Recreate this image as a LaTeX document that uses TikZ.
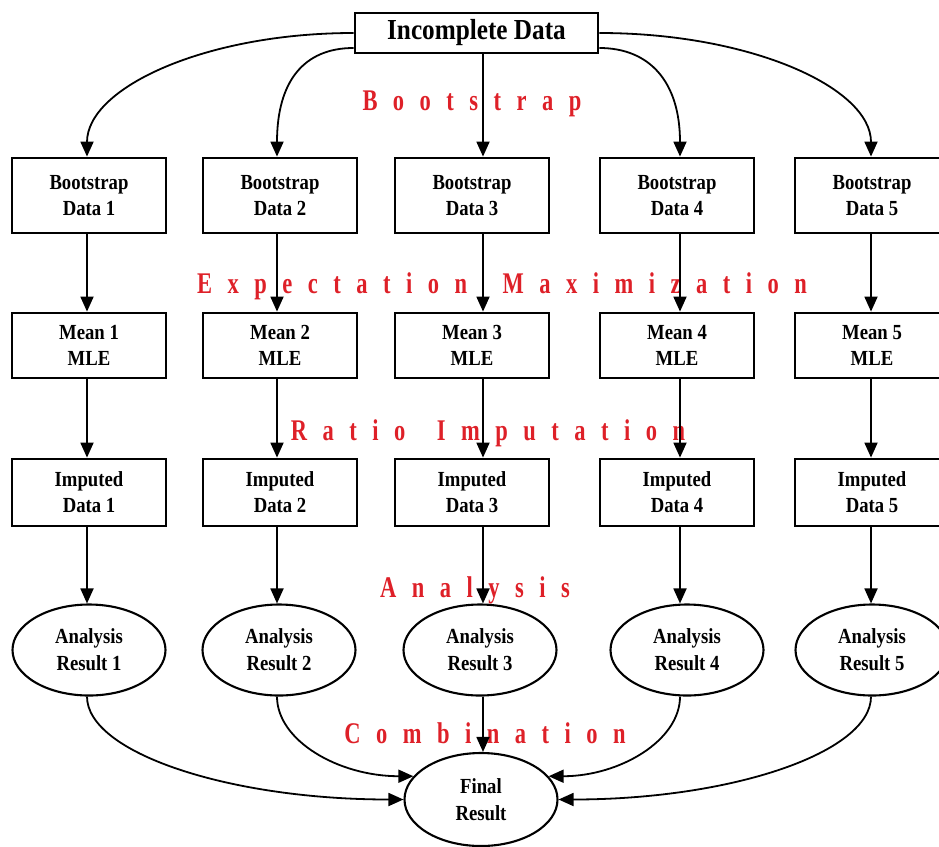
\documentclass[tikz,border=0pt]{standalone}
\usepackage{fontspec}
\setmainfont{Liberation Serif}[FakeStretch=0.87]
\newfontfamily\redfont{Liberation Serif}[FakeStretch=0.75]
\usetikzlibrary{shapes.geometric,arrows.meta}
\definecolor{lblred}{RGB}{222,32,40}
\newcommand\redgap{\spaceskip=15.5pt\relax}
\begin{document}
\begin{tikzpicture}[x=1pt,y=1pt,
  box/.style={draw=black, line width=2.8pt, minimum width=154pt, inner sep=0pt, align=center,
    font=\fontsize{21.5}{26}\selectfont\bfseries},
  oval/.style={draw=black, ellipse, line width=2.1pt, minimum width=153pt, minimum height=91pt,
    inner sep=0pt, align=center, font=\fontsize{21.5}{27}\selectfont\bfseries},
  arr/.style={line width=1.8pt, -{Triangle[length=15pt,width=13pt]}},
  lbl/.style={text=lblred, font=\redfont\fontsize{30}{30}\selectfont\bfseries,
    inner sep=0pt, anchor=base}
]
\useasboundingbox (0,0) rectangle (939,-846);
\clip (0,0) rectangle (939,-846);

% red stage labels (drawn first, arrows go over them)
\node[lbl] (lb1) at (472,-110) {\redgap B o o t s t r a p};
\node[lbl] (lb2) at (502,-293) {\redgap E x p e c t a t i o n\hspace{20pt} M a x i m i z a t i o n};
\node[lbl] (lb3) at (488,-440) {\redgap R a t i o\hspace{16pt} I m p u t a t i o n};
\node[lbl] (lb4) at (475,-597) {\redgap A n a l y s i s};
\node[lbl] (lb5) at (485,-743) {\redgap C o m b i n a t i o n};

% top node
\node[box, minimum width=243pt, minimum height=40pt, font=\fontsize{29}{30}\selectfont\bfseries]
  (top) at (476.5,-33) {Incomplete Data};

% columns
\foreach \i/\x/\e/\k in {1/89/89/87,2/280/279/277,3/472/480/483,4/677/687/680,5/872/872/871}{
  \coordinate (k\i) at (\k,0);
  \node[box, minimum height=75pt] (b\i) at (\x,-195.5) {Bootstrap\\Data \i};
  \node[box, minimum height=65pt] (m\i) at (\x,-345.5) {Mean \i\\MLE};
  \node[box, minimum height=67pt] (i\i) at (\x,-492.5) {Imputed\\Data \i};
  \node[oval] (a\i) at (\e,-650) {Analysis\\Result \i};
  \draw[arr] (b\i.south -| k\i) -- (m\i.north -| k\i);
  \draw[arr] (m\i.south -| k\i) -- (i\i.north -| k\i);
  \draw[arr] (i\i.south -| k\i) -- (a\i.north -| k\i);
}

% final node
\node[oval, minimum height=93pt] (F) at (481,-799.5) {Final\\Result};

% bootstrap arrows
\draw[arr] (top.west) to[out=180,in=90,out distance=148pt,in distance=69pt] (b1.north -| k1);
\draw[arr] ([yshift=-15pt]top.west) to[out=180,in=90,out distance=50pt,in distance=75pt] (b2.north -| k2);
\draw[arr] (top.south -| k3) -- (b3.north -| k3);
\draw[arr] ([yshift=-15pt]top.east) to[out=0,in=90,out distance=50pt,in distance=75pt] (b4.north -| k4);
\draw[arr] (top.east) to[out=0,in=90,out distance=151pt,in distance=69pt] (b5.north -| k5);

% combination arrows
\draw[arr] (a1.south -| k1) to[out=-90,in=180,out distance=56pt,in distance=175pt] (F.180);
\draw[arr] (a2.south -| k2) to[out=-90,in=180,out distance=44pt,in distance=75pt] (F.161);
\draw[arr] (a3.south -| k3) -- (F.north -| k3);
\draw[arr] (a4.south -| k4) to[out=-90,in=0,out distance=44pt,in distance=71pt] (F.19);
\draw[arr] (a5.south -| k5) to[out=-90,in=0,out distance=56pt,in distance=173pt] (F.0);
\end{tikzpicture}
\end{document}
